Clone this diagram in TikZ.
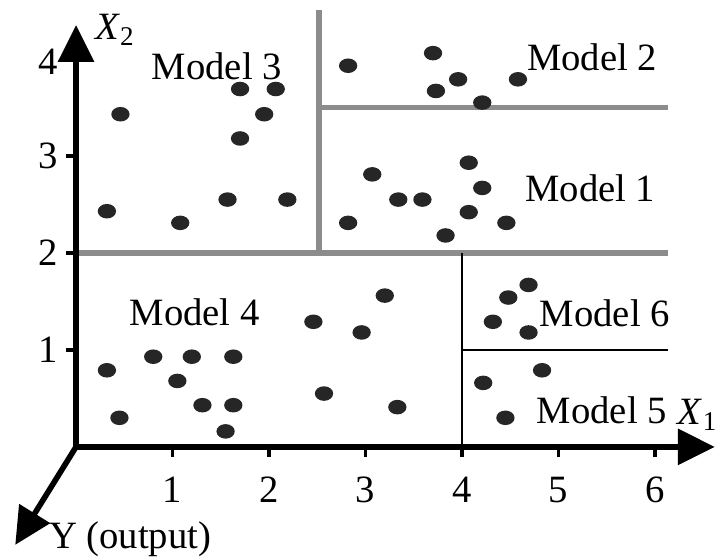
\documentclass[tikz,border=0pt]{standalone}
\usepackage{fontspec}
\setmainfont{Liberation Serif}
\usetikzlibrary{arrows.meta}

\begin{document}
\begin{tikzpicture}[x=0.965cm,y=0.97cm,font=\fontsize{11}{13}\selectfont]
\useasboundingbox (-0.788,-1.165) rectangle (6.674,4.608);

\begin{scope}[shift={(0,0)}]
        \coordinate (O) at (0,0);
        \coordinate (X1) at (6.62,0);
        \coordinate (X2) at (0,4.35);
        \coordinate (Y) at (-0.63,-1.01);

        \coordinate (A) at (0,2);
        \coordinate (B) at (6.13,2);
        \coordinate (C) at (2.52,2);
        \coordinate (D) at (2.52,4.5);
        \coordinate (E) at (2.52,3.5);
        \coordinate (F) at (6.13,3.5);
        \coordinate (G) at (4,0);
        \coordinate (H) at (4,2);
        \coordinate (I) at (4,1);
        \coordinate (J) at (6.14,1);

        % Podziały
        \draw[black!45][line width=1.6pt] (A) -- (B);
        \draw[black!45][line width=1.6pt] (C) -- (D);
        \draw[black!45][line width=1.6pt] (E) -- (F);
        \draw[black][line width=0.6pt] (G) -- (H);
        \draw[black][line width=0.6pt] (I) -- (J);

        % Osie
        \draw[line width=1.6pt,-{Triangle[length=10.5pt,width=10pt]}] (O) -- (X1);
        \draw[line width=1.6pt,-{Triangle[length=10.5pt,width=10pt]}] (O) -- (X2);
        \draw[line width=1.6pt,-{Triangle[length=10.5pt,width=10pt]}] (O) -- (Y);

        \draw[line width=1pt] (1,0) -- (1,-0.1);
        \draw[line width=1pt] (2,0) -- (2,-0.1);
        \draw[line width=1pt] (3,0) -- (3,-0.1);
        \draw[line width=1pt] (4,0) -- (4,-0.1);
        \draw[line width=1pt] (5,0) -- (5,-0.1);
        \draw[line width=1pt] (6,0) -- (6,-0.1);
        \draw[line width=1pt] (0,1) -- (-0.1,1);
        \draw[line width=1pt] (0,2) -- (-0.1,2);
        \draw[line width=1pt] (0,3) -- (-0.1,3);

        \node (tx1) at (1,-0.44) {1};
        \node (tx2) at (2,-0.44) {2};
        \node (tx3) at (3,-0.44) {3};
        \node (tx4) at (4,-0.44) {4};
        \node (tx5) at (5,-0.44) {5};
        \node (tx6) at (6,-0.44) {6};
        \node (ty1) at (-0.29,1) {1};
        \node (ty2) at (-0.29,2) {2};
        \node (ty3) at (-0.29,3) {3};
        \node (ty4) at (-0.29,3.97) {4};

        \node[anchor=west] (lx2) at (0.07,4.3) {\textit{X}\textsubscript{2}};
        \node[anchor=west] (lx1) at (6.11,0.33) {\textit{X}\textsubscript{1}};
        \node (ly) at (0.56,-0.95) {Y (output)};

        % Modele
        \node (m3) at (1.46,3.92) {Model 3};
        \node (m2) at (5.35,4.02) {Model 2};
        \node (m1) at (5.33,2.67) {Model 1};
        \node (m4) at (1.23,1.39) {Model 4};
        \node (m6) at (5.48,1.38) {Model 6};
        \node (m5) at (5.45,0.38) {Model 5};

        % Punkty: Model 3
        \fill[black!85] (0.46,3.43) ellipse[x radius=0.095,y radius=0.075];
        \fill[black!85] (1.70,3.69) ellipse[x radius=0.095,y radius=0.075];
        \fill[black!85] (2.07,3.69) ellipse[x radius=0.095,y radius=0.075];
        \fill[black!85] (1.95,3.43) ellipse[x radius=0.095,y radius=0.075];
        \fill[black!85] (1.70,3.18) ellipse[x radius=0.095,y radius=0.075];
        \fill[black!85] (0.32,2.43) ellipse[x radius=0.095,y radius=0.075];
        \fill[black!85] (1.08,2.31) ellipse[x radius=0.095,y radius=0.075];
        \fill[black!85] (1.57,2.55) ellipse[x radius=0.095,y radius=0.075];
        \fill[black!85] (2.19,2.55) ellipse[x radius=0.095,y radius=0.075];
        % Model 2
        \fill[black!85] (2.82,3.93) ellipse[x radius=0.095,y radius=0.075];
        \fill[black!85] (3.70,4.06) ellipse[x radius=0.095,y radius=0.075];
        \fill[black!85] (3.96,3.79) ellipse[x radius=0.095,y radius=0.075];
        \fill[black!85] (3.73,3.67) ellipse[x radius=0.095,y radius=0.075];
        \fill[black!85] (4.21,3.55) ellipse[x radius=0.095,y radius=0.075];
        \fill[black!85] (4.58,3.79) ellipse[x radius=0.095,y radius=0.075];
        % Model 1
        \fill[black!85] (2.82,2.31) ellipse[x radius=0.095,y radius=0.075];
        \fill[black!85] (3.07,2.81) ellipse[x radius=0.095,y radius=0.075];
        \fill[black!85] (3.34,2.55) ellipse[x radius=0.095,y radius=0.075];
        \fill[black!85] (3.59,2.55) ellipse[x radius=0.095,y radius=0.075];
        \fill[black!85] (4.07,2.93) ellipse[x radius=0.095,y radius=0.075];
        \fill[black!85] (4.21,2.67) ellipse[x radius=0.095,y radius=0.075];
        \fill[black!85] (4.07,2.42) ellipse[x radius=0.095,y radius=0.075];
        \fill[black!85] (4.46,2.31) ellipse[x radius=0.095,y radius=0.075];
        \fill[black!85] (3.83,2.18) ellipse[x radius=0.095,y radius=0.075];
        % Model 4
        \fill[black!85] (0.32,0.79) ellipse[x radius=0.095,y radius=0.075];
        \fill[black!85] (0.45,0.30) ellipse[x radius=0.095,y radius=0.075];
        \fill[black!85] (0.80,0.93) ellipse[x radius=0.095,y radius=0.075];
        \fill[black!85] (1.20,0.93) ellipse[x radius=0.095,y radius=0.075];
        \fill[black!85] (1.63,0.93) ellipse[x radius=0.095,y radius=0.075];
        \fill[black!85] (1.05,0.68) ellipse[x radius=0.095,y radius=0.075];
        \fill[black!85] (1.31,0.43) ellipse[x radius=0.095,y radius=0.075];
        \fill[black!85] (1.63,0.43) ellipse[x radius=0.095,y radius=0.075];
        \fill[black!85] (1.55,0.16) ellipse[x radius=0.095,y radius=0.075];
        \fill[black!85] (2.46,1.29) ellipse[x radius=0.095,y radius=0.075];
        \fill[black!85] (2.57,0.55) ellipse[x radius=0.095,y radius=0.075];
        \fill[black!85] (3.20,1.56) ellipse[x radius=0.095,y radius=0.075];
        \fill[black!85] (2.96,1.18) ellipse[x radius=0.095,y radius=0.075];
        \fill[black!85] (3.33,0.41) ellipse[x radius=0.095,y radius=0.075];
        % Model 6
        \fill[black!85] (4.69,1.67) ellipse[x radius=0.095,y radius=0.075];
        \fill[black!85] (4.48,1.54) ellipse[x radius=0.095,y radius=0.075];
        \fill[black!85] (4.32,1.29) ellipse[x radius=0.095,y radius=0.075];
        \fill[black!85] (4.69,1.18) ellipse[x radius=0.095,y radius=0.075];
        % Model 5
        \fill[black!85] (4.83,0.79) ellipse[x radius=0.095,y radius=0.075];
        \fill[black!85] (4.22,0.66) ellipse[x radius=0.095,y radius=0.075];
        \fill[black!85] (4.45,0.30) ellipse[x radius=0.095,y radius=0.075];
\end{scope}

\end{tikzpicture}
\end{document}
